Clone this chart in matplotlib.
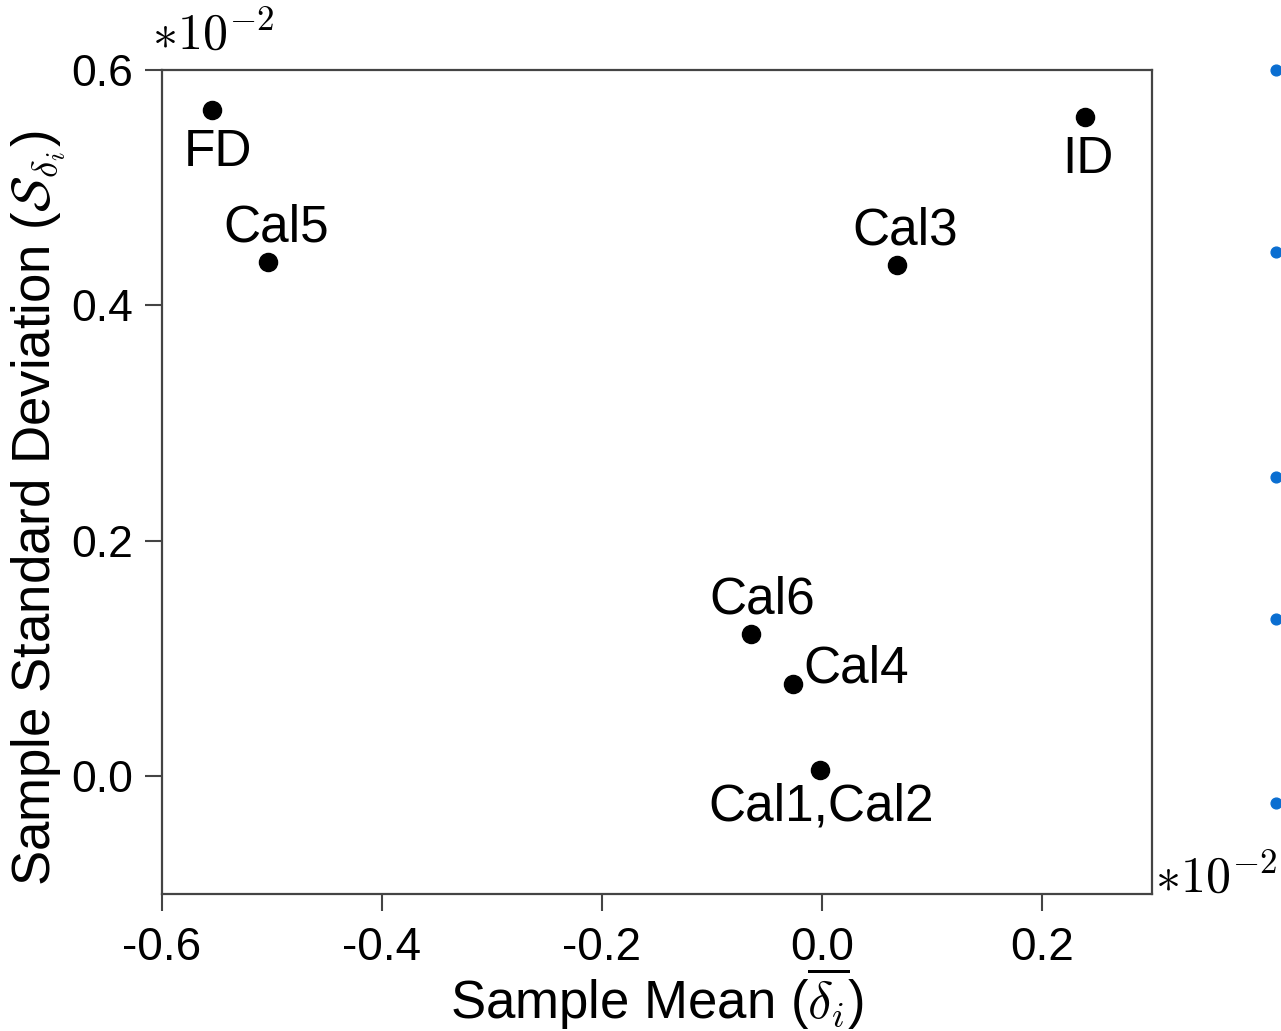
import matplotlib
matplotlib.use("Agg")
import matplotlib.pyplot as plt

# data (units of 1e-2)
names = ["FD", "Cal5", "Cal3", "ID", "Cal6", "Cal4", "Cal1,Cal2"]
sampleMean = [-0.555, -0.504, 0.068, 0.239, -0.0645, -0.026, -0.002]
sampleStd = [0.566, 0.437, 0.434, 0.560, 0.121, 0.078, 0.005]
# label placement relative to point (offset in points, ha, va)
labelPos = {
  "FD": ((5, -13), "center", "top"),
  "Cal5": ((6, 7), "center", "bottom"),
  "Cal3": ((6, 7), "center", "bottom"),
  "ID": ((2, -13), "center", "top"),
  "Cal6": ((8, 7), "center", "bottom"),
  "Cal4": ((7, 11), "left", "center"),
  "Cal1,Cal2": ((1, -9), "center", "top"),
}
xTicks = [-0.6, -0.4, -0.2, 0.0, 0.2]
yTicks = [0.0, 0.2, 0.4, 0.6]

# bullet dots of the slide, cut off at the right edge (figure pixels from top)
bulletY = [70, 252, 477, 619, 803]

plt.rcParams['font.family'] = ['Liberation Sans', 'DejaVu Sans']
plt.rcParams['mathtext.fontset'] = 'cm'

fig = plt.figure(figsize=(12.81, 10.31), dpi=100)
ax = fig.add_axes([162 / 1281, 137 / 1031, 990 / 1281, 824 / 1031])

ax.scatter(sampleMean, sampleStd, s=170, color="black", zorder=3)
for name, x, y in zip(names, sampleMean, sampleStd):
  off, ha, va = labelPos[name]
  ax.annotate(name, (x, y), xytext=off, textcoords="offset points",
              ha=ha, va=va, fontsize=37)

ax.set_xlim(-0.6, 0.3)
ax.set_ylim(-0.1, 0.6)
ax.set_xticks(xTicks)
ax.set_yticks(yTicks)
ax.set_xticklabels(["%.1f" % v for v in xTicks])
ax.set_yticklabels(["%.1f" % v for v in yTicks])
ax.tick_params(direction="out", length=12, width=1.5, color="#444444",
               labelsize=33, pad=11)
ax.tick_params(axis="y", labelsize=32, pad=9)
for sp in ax.spines.values():
  sp.set_color("#444444")
  sp.set_linewidth(1.6)

ax.set_xlabel(r"Sample Mean ($\overline{\delta_i}$)", fontsize=38, va="baseline")
ax.set_ylabel(r"Sample Standard Deviation ($\mathcal{S}_{\delta_i}$)", fontsize=38, va="baseline")
ax.xaxis.set_label_coords(0.5, -0.152)
ax.yaxis.set_label_coords(-0.113, 0.469)

ax.text(-0.01, 1.012, r"$*10^{-2}$", transform=ax.transAxes, fontsize=36,
        ha="left", va="bottom")
ax.text(1.003, -0.01, r"$*10^{-2}$", transform=ax.transAxes, fontsize=36,
        ha="left", va="bottom")

# overlay for the slide bullets
over = fig.add_axes([0, 0, 1, 1], zorder=-1)
over.set_xlim(0, 1281)
over.set_ylim(1031, 0)
over.axis("off")
over.scatter([1276] * len(bulletY), bulletY, s=60, color="#0a6ed1")

fig.savefig("out.png", dpi=100)
